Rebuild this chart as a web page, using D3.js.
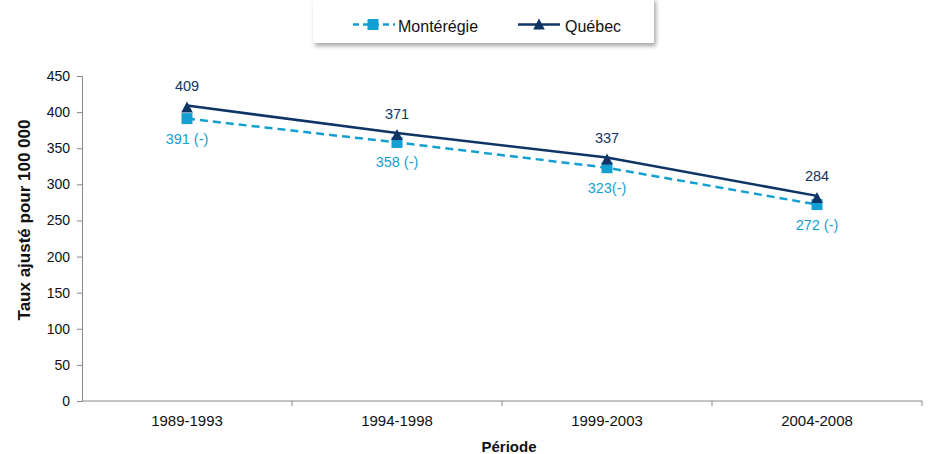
<!DOCTYPE html>
<html><head><meta charset="utf-8">
<script src="https://cdn.jsdelivr.net/npm/d3@7"></script>
<style>body{margin:0;background:#fff;}svg{display:block;font-family:"Liberation Sans",Arial,sans-serif;}</style>
</head><body>
<svg id="chart" width="928" height="454"></svg>
<script>
const periods = ["1989-1993","1994-1998","1999-2003","2004-2008"];
const monteregie = [391,358,323,272];
const monteregieLabels = ["391 (-)","358 (-)","323(-)","272 (-)"];
const quebec = [409,371,337,284];
const quebecLabels = ["409","371","337","284"];
const yTicks = [0,50,100,150,200,250,300,350,400,450];

const cM = "#149fd2", cQ = "#0f3466";
const svg = d3.select("#chart");
const m = {l:82, r:922, t:76, b:401};
const x = d3.scaleBand().domain(periods).range([m.l, m.r]);
const y = d3.scaleLinear().domain([0,450]).range([m.b, m.t]);

// y axis
const ya = svg.append("g").attr("transform",`translate(${m.l},0)`)
  .call(d3.axisLeft(y).tickValues(yTicks).tickSize(5).tickPadding(7));
ya.select(".domain").attr("stroke","#888");
ya.selectAll(".tick line").attr("stroke","#888");
ya.selectAll("text").attr("font-size",14).attr("fill","#111").attr("font-family","Liberation Sans, Arial");

// x axis
const xa = svg.append("g").attr("transform",`translate(0,${m.b})`);
xa.append("line").attr("x1",m.l).attr("x2",m.r).attr("stroke","#888");
periods.forEach((p,i)=>{
  const x1 = x(p)+x.bandwidth();
  xa.append("line").attr("x1",x1).attr("x2",x1).attr("y1",0).attr("y2",5).attr("stroke","#888");
  xa.append("text").attr("x",x(p)+x.bandwidth()/2).attr("y",24.5).attr("text-anchor","middle")
    .attr("font-size",15).attr("fill","#111").text(p);
});

svg.append("text").attr("x",509).attr("y",451.5).attr("text-anchor","middle")
  .attr("font-size",15).attr("font-weight","bold").attr("fill","#111").text("Période");
svg.append("text").attr("transform","translate(30,220) rotate(-90)").attr("text-anchor","middle")
  .attr("font-size",17).attr("font-weight","bold").attr("fill","#111").text("Taux ajusté pour 100 000");

const cx = p => x(p)+x.bandwidth()/2;
const line = d3.line().x((d,i)=>cx(periods[i])).y(d=>y(d));

svg.append("path").datum(monteregie).attr("d",line).attr("fill","none")
  .attr("stroke",cM).attr("stroke-width",2.5).attr("stroke-dasharray","8,5");
svg.append("path").datum(quebec).attr("d",line).attr("fill","none")
  .attr("stroke",cQ).attr("stroke-width",2.5);

const sq = d3.symbol().type(d3.symbolSquare).size(121);
const triPath = "M0,-5.5L5.8,5.5L-5.8,5.5Z";
monteregie.forEach((v,i)=>{
  svg.append("path").attr("d",sq()).attr("fill",cM)
    .attr("transform",`translate(${cx(periods[i])},${y(v)})`);
  svg.append("text").attr("x",cx(periods[i])).attr("y",y(v)+25).attr("text-anchor","middle")
    .attr("font-size",14.5).attr("fill",cM).text(monteregieLabels[i]);
});
quebec.forEach((v,i)=>{
  svg.append("path").attr("d",triPath).attr("fill",cQ)
    .attr("transform",`translate(${cx(periods[i])},${y(v)+1.5})`);
  svg.append("text").attr("x",cx(periods[i])).attr("y",y(v)-14.5).attr("text-anchor","middle")
    .attr("font-size",14.5).attr("fill",cQ).text(quebecLabels[i]);
});

// legend
const defs = svg.append("defs");
const f = defs.append("filter").attr("id","sh").attr("x","-10%").attr("y","-20%").attr("width","130%").attr("height","160%");
f.append("feDropShadow").attr("dx",2).attr("dy",3).attr("stdDeviation",2).attr("flood-color","#000").attr("flood-opacity",0.35);
const lg = svg.append("g");
lg.append("rect").attr("x",313).attr("y",-2).attr("width",341).attr("height",45).attr("fill","#fff").attr("filter","url(#sh)");
lg.append("line").attr("x1",352).attr("x2",395).attr("y1",24.5).attr("y2",24.5).attr("stroke",cM).attr("stroke-width",2.5).attr("stroke-dasharray","6,4").attr("stroke-dashoffset",-1);
lg.append("path").attr("d",sq()).attr("fill",cM).attr("transform","translate(373,24.5)");
lg.append("text").attr("x",398).attr("y",32).attr("font-size",16).attr("fill","#111").text("Montérégie");
lg.append("line").attr("x1",518).attr("x2",560).attr("y1",24.5).attr("y2",24.5).attr("stroke",cQ).attr("stroke-width",2.5);
lg.append("path").attr("d",triPath).attr("fill",cQ).attr("transform","translate(539,24)");
lg.append("text").attr("x",565).attr("y",32).attr("font-size",16).attr("fill","#111").text("Québec");
</script>
</body></html>
